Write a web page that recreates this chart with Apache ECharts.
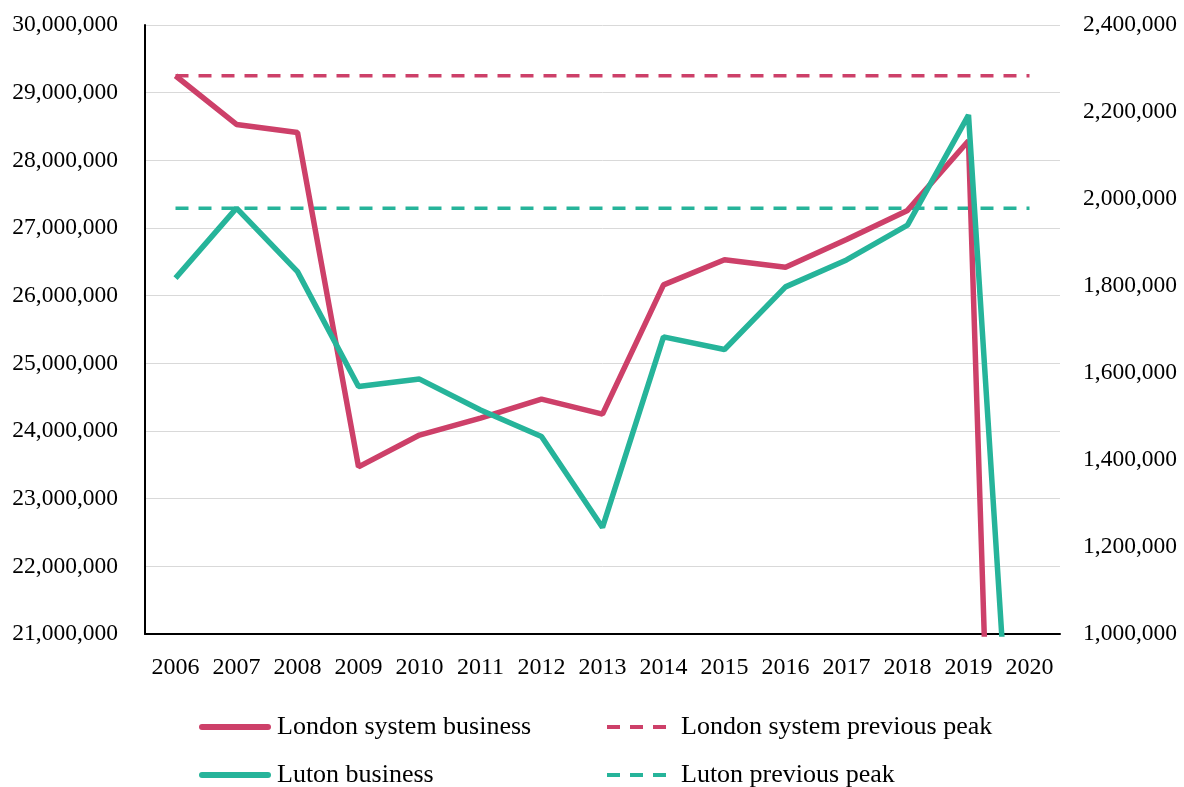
<!DOCTYPE html>
<html>
<head>
<meta charset="utf-8">
<script src="https://cdn.jsdelivr.net/npm/echarts@6/dist/echarts.min.js"></script>
<style>
html,body{margin:0;padding:0;background:#fff;}
#c{width:1184px;height:787px;}
</style>
</head>
<body>
<div id="c"></div>
<script>
const years = ['2006','2007','2008','2009','2010','2011','2012','2013','2014','2015','2016','2017','2018','2019','2020'];
const londonBusiness = [29250000,28530000,28410000,23470000,23940000,24190000,24470000,24250000,26160000,26530000,26420000,26830000,27260000,28290000,0];
const lutonBusiness = [1818000,1979000,1833000,1569000,1586000,1515000,1454000,1245000,1683000,1654000,1798000,1860000,1940000,2193000,0];
const londonPeak = [29250000,29250000,29250000,29250000,29250000,29250000,29250000,29250000,29250000,29250000,29250000,29250000,29250000,29250000,29250000];
const lutonPeak = [1979000,1979000,1979000,1979000,1979000,1979000,1979000,1979000,1979000,1979000,1979000,1979000,1979000,1979000,1979000];

const PINK = '#CD4069';
const TEAL = '#26B49A';
const FONT = 'Liberation Serif';
const fmt = v => v.toLocaleString('en-US');

const SOLID_ICON = 'path://M3,0h66a3,3 0 0 1 0,6h-66a3,3 0 0 1 0,-6z';
const DASH_ICON = 'path://M0,0h13v4h-13z M23,0h13v4h-13z M46,0h13v4h-13z';

function lg(name, left, top, solid, gap){
  return {
    left:left, top:top, padding:0, orient:'horizontal',
    itemWidth: solid?72:59, itemHeight: solid?6:4, itemGap:0,
    icon: solid?SOLID_ICON:DASH_ICON,
    textStyle:{fontFamily:FONT,fontSize:26,color:'#000',padding:[0,0,0,gap]},
    data:[name]
  };
}

const chart = echarts.init(document.getElementById('c'), null, {renderer:'canvas'});
chart.setOption({
  backgroundColor:'#fff',
  animation:false,
  textStyle:{fontFamily:FONT},
  grid:{left:145,right:124,top:25,bottom:153,containLabel:false},
  legend:[
    lg('London system business',199,714,true,1),
    lg('Luton business',199,762,true,1),
    lg('London system previous peak',607,714,false,10),
    lg('Luton previous peak',607,762,false,10)
  ],
  xAxis:{type:'category',data:years,boundaryGap:true,
    axisLine:{lineStyle:{color:'#000',width:2}},axisTick:{show:false},
    axisLabel:{fontFamily:FONT,fontSize:24,color:'#000',margin:22,interval:0}},
  yAxis:[
    {type:'value',min:21000000,max:30000000,interval:1000000,
     axisLine:{show:true,lineStyle:{color:'#000',width:2}},axisTick:{show:false},
     splitLine:{lineStyle:{color:'#d9d9d9',width:1}},
     axisLabel:{fontFamily:FONT,fontSize:23.5,color:'#000',margin:27,formatter:fmt}},
    {type:'value',min:1000000,max:2400000,interval:200000,position:'right',
     axisLine:{show:false},axisTick:{show:false},splitLine:{show:false},
     axisLabel:{fontFamily:FONT,fontSize:23.5,color:'#000',margin:23,formatter:fmt}}
  ],
  series:[
    {name:'London system business',type:'line',data:londonBusiness,yAxisIndex:0,symbol:'none',
     lineStyle:{color:PINK,width:5.5},itemStyle:{color:PINK},clip:true,z:3},
    {name:'London system previous peak',type:'line',data:londonPeak,yAxisIndex:0,symbol:'none',
     lineStyle:{color:PINK,width:3.5,type:[13,10]},itemStyle:{color:PINK},z:2},
    {name:'Luton business',type:'line',data:lutonBusiness,yAxisIndex:1,symbol:'none',
     lineStyle:{color:TEAL,width:5.5},itemStyle:{color:TEAL},clip:true,z:4},
    {name:'Luton previous peak',type:'line',data:lutonPeak,yAxisIndex:1,symbol:'none',
     lineStyle:{color:TEAL,width:3.5,type:[13,10]},itemStyle:{color:TEAL},z:2}
  ]
});
</script>
</body>
</html>
